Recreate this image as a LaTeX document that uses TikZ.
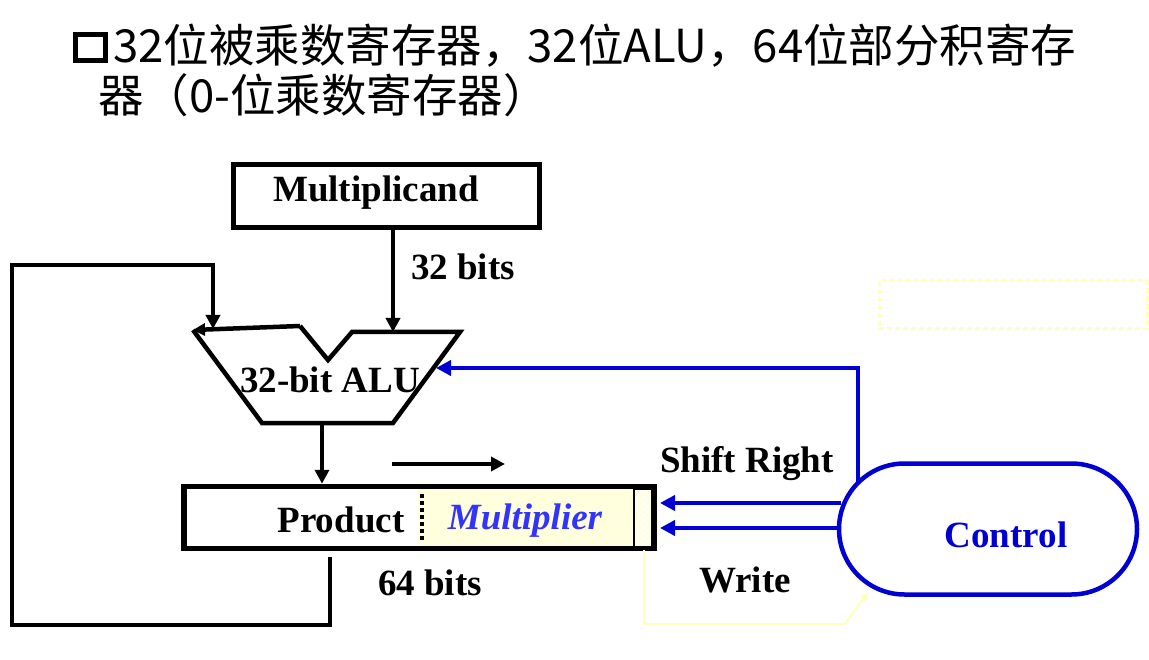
\documentclass[tikz,border=0pt]{standalone}
\usepackage{fontspec}
\setmainfont{Liberation Serif}
\newfontfamily\cjk{Noto Sans CJK SC}
\usetikzlibrary{arrows.meta,shapes.misc,patterns}
\definecolor{myblue}{RGB}{0,0,210}
\definecolor{multblue}{RGB}{51,51,255}
\definecolor{paleyel}{RGB}{255,255,222}
\definecolor{faintyel}{RGB}{255,255,190}
\begin{document}
\begin{tikzpicture}[x=1pt,y=-1pt,
  lbl/.style={font=\fontsize{37}{40}\selectfont\bfseries, inner sep=0pt},
  title/.style={font=\cjk\fontsize{45.5}{50}\selectfont, inner sep=0pt, anchor=base west},
  arr/.style={line width=3.5pt,-{Triangle[length=14pt,width=14pt]}},
  barr/.style={line width=4pt,draw=myblue,color=myblue,-{Triangle[length=15pt,width=15pt]}},
  thickbox/.style={draw, line width=5pt, inner sep=0pt},
  aluline/.style={line width=4.5pt, line join=miter},
]
\useasboundingbox (0,0) rectangle (1149,660);

% title
\draw[line width=5pt] (75,35) rectangle (105,61);
\node[title] (t1) at (113,63) {32位被乘数寄存器，32位ALU，64位部分积寄存};
\node[title] (t2) at (98,113) {器（0-位乘数寄存器）};

% faint background marks
\draw[faintyel, line width=3pt, dash pattern=on 5pt off 3pt] (879,281) rectangle (1147,329);

% Multiplicand
\node[thickbox, minimum width=306pt, minimum height=63pt] (mc) at (386,196) {};
\node[lbl] (mctext) at (376,193) {Multiplicand};

% ALU
\coordinate (aluTL) at (193,330);
\coordinate (aluLin) at (213,329);
\coordinate (aluRin) at (393,332);
\coordinate (aluOut) at (322,423);
\coordinate (aluCtl) at (436,368);
\draw[aluline] (300,326) -- (328,360) -- (352,332) -- (460,332) -- (393,423) -- (262,423) -- (aluTL);
\draw[line width=4.5pt, {Triangle[length=12pt,width=12pt]}-] (aluTL) -- (300,326);
\node[lbl] (alu) at (330,380) {32-bit ALU};

% Product register
\fill[paleyel] (418,489) rectangle (633,548);
\fill[pattern=north east lines, pattern color=faintyel] (634,489) rectangle (652,548);
\draw[line width=1.8pt] (634,489) rectangle (653,548);
\node[draw, line width=5.5pt, minimum width=470pt, minimum height=62pt, inner sep=0pt] (prod) at (419,517.5) {};
\draw[line width=4pt, dash pattern=on 4pt off 3pt] (422,494) -- (422,542);
\node[lbl] (ptext) at (341,520) {Product};
\node[lbl, font=\fontsize{37}{40}\selectfont\bfseries\itshape, text=multblue] (mtext) at (525,521) {Multiplier};

% Control
\node[rounded rectangle, draw=myblue, line width=4.5pt, minimum width=298pt, minimum height=131pt, inner sep=0pt] (ctrl) at (988,529) {};
\node[lbl, text=myblue] (ctext) at (1006,535) {Control};

% black connectors
\draw[arr] (mc.south -| aluRin) -- (aluRin);
\node[lbl] (b32) at (463,267) {32 bits};
\coordinate (fbstart) at (330,557);
\coordinate (fbcorner) at (330,625);
\draw[arr] (fbstart) -- (fbcorner) -| (12,265) -| (aluLin);
\draw[arr] (aluOut) -- (aluOut |- prod.north);
\coordinate (sa) at (392,464);
\coordinate (sb) at (505,464);
\draw[arr] (sa) -- (sb);
\node[lbl] (b64) at (430,583) {64 bits};

% blue connectors
\coordinate (ctrlTop) at (858,482);
\draw[barr] (ctrlTop) |- (aluCtl);
\coordinate (srin) at (660,503);
\coordinate (wrin) at (660,528);
\draw[barr] (ctrl.west |- srin) ++(4,0) -- (srin);
\draw[barr] (ctrl.west |- wrin) -- (wrin);
\node[lbl] (srtext) at (747,464) {Shift Right};
\node[lbl] (wtext) at (745,580) {Write};

% faint yellow link
\coordinate (lk) at (644,550);
\draw[faintyel, line width=2pt, -{Triangle[length=8pt,width=8pt]}] (lk) -- (644,624) -- (845,624) -- (868,592);
\end{tikzpicture}
\end{document}
